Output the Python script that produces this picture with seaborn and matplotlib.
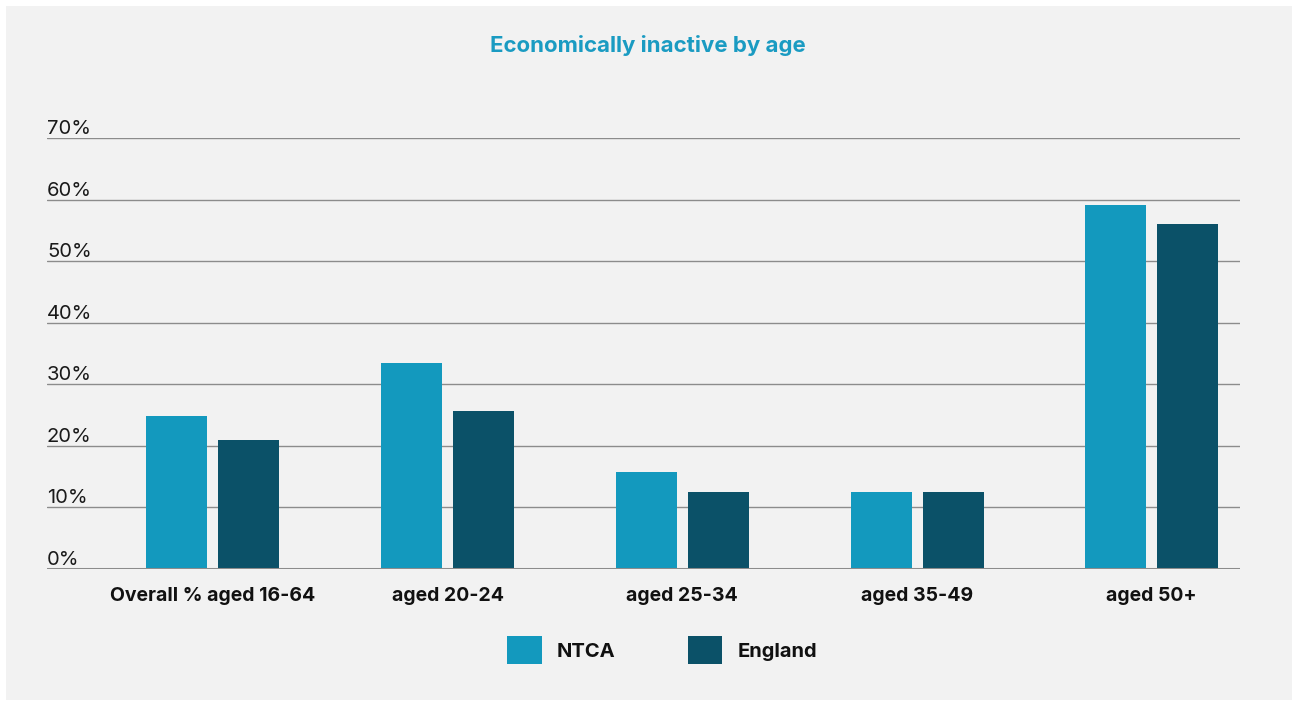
import matplotlib
matplotlib.use("Agg")
import matplotlib.pyplot as plt
import matplotlib.patches as mpatches
import matplotlib.transforms as mtransforms
import pandas as pd
import seaborn as sns

# Data
categories = ["Overall % aged 16-64", "aged 20-24", "aged 25-34", "aged 35-49", "aged 50+"]
ntca = [24.8, 33.4, 15.7, 12.5, 59.1]
england = [20.9, 25.6, 12.5, 12.5, 56.0]
series = ["NTCA", "England"]
yticks = [0, 10, 20, 30, 40, 50, 60, 70]

colors = {"NTCA": "#1399BE", "England": "#0B5168"}
panel = "#F2F2F2"

df = pd.DataFrame({
    "category": categories * 2,
    "value": ntca + england,
    "series": ["NTCA"] * len(categories) + ["England"] * len(categories),
})

sns.set_style("white")
plt.rcParams["font.family"] = ["Inter", "DejaVu Sans"]

W, H = 1292, 701
fig = plt.figure(figsize=(W / 100, H / 100), dpi=100)
fig.patch.set_facecolor("white")
# grey panel behind everything
fig.patches.append(mpatches.Rectangle((6 / W, 1 / H), 1 - 6 / W, 1 - 7 / H,
                                      transform=fig.transFigure, facecolor=panel,
                                      edgecolor="none", zorder=-10))

ax = fig.add_axes([47 / W, (H - 569) / H, (1240 - 47) / W, (569 - 138) / H])
ax.set_facecolor("none")

sns.barplot(data=df, x="category", y="value", hue="series", hue_order=series,
            palette=colors, width=0.614, gap=0.153, saturation=1,
            linewidth=0, edgecolor="none",
            legend=False, ax=ax, zorder=3)

ax.set_ylim(0, 70)
ax.set_xlim(-0.707, 4.376)
for s in ax.spines.values():
    s.set_visible(False)

# gridlines
for v in yticks:
    if v == 0:
        ax.axhline(0, color="#8C8C8C", lw=2.2, zorder=4)
    else:
        ax.axhline(v, color="#8C8C8C", lw=1.0, zorder=1)

# y labels sitting above their gridlines
trans = mtransforms.blended_transform_factory(ax.transAxes, ax.transData)
for v in yticks:
    ax.text(0, v, f"{v}%", transform=trans, ha="left", va="bottom",
            fontsize=14.5, color="#1a1a1a", clip_on=False)

ax.set_yticks([])
ax.tick_params(axis="x", length=0, pad=13)
for lab in ax.get_xticklabels():
    lab.set_fontsize(14)
    lab.set_fontweight("bold")
    lab.set_color("#111111")
ax.set_xlabel("")
ax.set_ylabel("")

fig.text(648 / W, (H - 45) / H, "Economically inactive by age", ha="center", va="center",
         fontsize=16, fontweight="bold", color="#1A9BC2")

handles = [mpatches.Patch(facecolor=colors[s], edgecolor="none", label=s) for s in series]
leg = fig.legend(handles=handles, loc="center", bbox_to_anchor=(662 / W, (H - 650) / H),
                 ncol=2, frameon=False, fontsize=14.5, handlelength=1.72, handleheight=1.72,
                 handletextpad=0.75, columnspacing=3.6)
for t in leg.get_texts():
    t.set_fontweight("bold")
    t.set_color("#111111")

fig.savefig("out.png", dpi=100, facecolor="white")
